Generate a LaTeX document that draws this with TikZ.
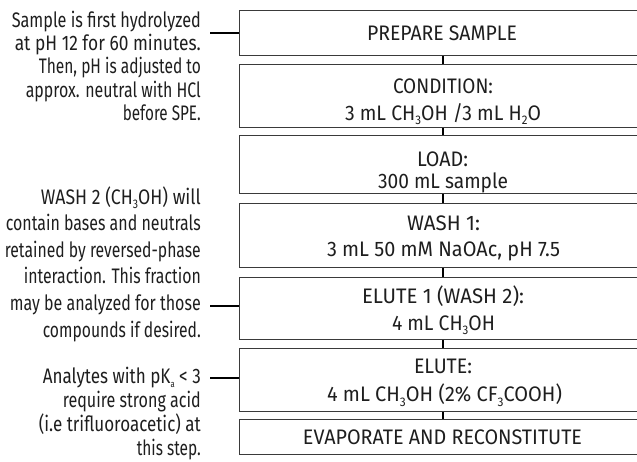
\documentclass[tikz,border=0pt]{standalone}
\usepackage{fontspec}
\usepackage{graphicx}
\setmainfont{Fira Sans}
\definecolor{boxline}{HTML}{3A3A3A}
\definecolor{txt}{HTML}{1E1E1E}
\newcommand\lsub[1]{\raisebox{-4.5pt}{\fontsize{12.5}{12.5}\selectfont #1}}
\newcommand\llsub[1]{\raisebox{-4.5pt}{\fontsize{9.5}{9.5}\selectfont #1}}
\newcommand\fw[2]{\resizebox{#1pt}{\height}{#2}}
\begin{document}
\begin{tikzpicture}[x=1pt,y=-1pt,
  stepbox/.style={draw=boxline,line width=1.3pt,minimum width=406pt,inner sep=0pt,anchor=north west},
  btxt/.style={anchor=base,inner sep=0pt,text=txt,font=\fontsize{21}{22}\selectfont},
  ltxt/.style={anchor=base east,inner sep=0pt,text=txt,font=\fontsize{21}{22}\selectfont},
  link/.style={line width=2pt,black},
  leader/.style={line width=2pt,black}]
\useasboundingbox (0,0) rectangle (637,461);
% boxes
\node[stepbox,minimum height=45pt] (b1) at (239,10) {};
\node[stepbox,minimum height=63pt] (b2) at (239,64) {};
\node[stepbox,minimum height=58pt] (b3) at (239,135) {};
\node[stepbox,minimum height=64pt] (b4) at (239,203) {};
\node[stepbox,minimum height=62pt] (b5) at (239,277) {};
\node[stepbox,minimum height=63pt] (b6) at (239,348) {};
\node[stepbox,minimum height=35pt] (b7) at (239,419) {};
% connectors
\draw[link] (b1.south) -- (b2.north);
\draw[link] (b2.south) -- (b3.north);
\draw[link] (b3.south) -- (b4.north);
\draw[link] (b4.south) -- (b5.north);
\draw[link] (b5.south) -- (b6.north);
\draw[link] (b6.south) -- (b7.north);
% box texts
\node[btxt] (t1) at (442,40.7) {\fw{150}{PREPARE SAMPLE}};
\node[btxt] (t2a) at (443,93.3) {\fw{100}{CONDITION:}};
\node[btxt] (t2b) at (443,120) {\fw{196}{3 mL CH\lsub{3}OH /3 mL H\lsub{2}O}};
\node[btxt] (t3a) at (442.5,166.7) {\fw{51}{LOAD:}};
\node[btxt] (t3b) at (443,188) {\fw{130}{300 mL sample}};
\node[btxt] (t4a) at (443.5,230) {\fw{73}{WASH 1:}};
\node[btxt] (t4b) at (443.5,256.7) {\fw{233}{3 mL 50 mM NaOAc, pH 7.5}};
\node[btxt] (t5a) at (443,303) {\fw{162}{ELUTE 1 (WASH 2):}};
\node[btxt] (t5b) at (443.5,330) {\fw{103}{4 mL CH\lsub{3}OH}};
\node[btxt] (t6a) at (443,373) {\fw{58}{ELUTE:}};
\node[btxt] (t6b) at (444.5,401.7) {\fw{235}{4 mL CH\lsub{3}OH (2\% CF\lsub{3}COOH)}};
\node[btxt] (t7) at (442.5,444) {\fw{279}{EVAPORATE AND RECONSTITUTE}};
% leaders
\coordinate (n1) at (210,32.5);
\coordinate (n2) at (210,306);
\coordinate (n3) at (210,378);
\draw[leader] (n1) -- (n1 -| b1.west);
\draw[leader] (n2) -- (n2 -| b5.west);
\draw[leader] (n3) -- (n3 -| b6.west);
% left notes
\node[ltxt] (a1) at (201,27) {\fw{189}{Sample is first hydrolyzed}};
\node[ltxt] (a2) at (201,50.3) {\fw{186}{at pH 12 for 60 minutes.}};
\node[ltxt] (a3) at (201,73.6) {\fw{162}{Then, pH is adjusted to}};
\node[ltxt] (a4) at (201,97) {\fw{175}{approx. neutral with HCl}};
\node[ltxt] (a5) at (201,120) {\fw{78}{before SPE.}};
\node[ltxt] (c1) at (201,204) {\fw{160}{WASH 2 (CH\lsub{3}OH) will}};
\node[ltxt] (c2) at (201,230.5) {\fw{195}{contain bases and neutrals}};
\node[ltxt] (c3) at (201,257) {\fw{196}{retained by reversed-phase}};
\node[ltxt] (c4) at (201,283.5) {\fw{177}{interaction. This fraction}};
\node[ltxt] (c5) at (201,310) {\fw{191}{may be analyzed for those}};
\node[ltxt] (c6) at (201,337) {\fw{158}{compounds if desired.}};
\node[ltxt] (d1) at (201,383) {\fw{158}{Analytes with pK\llsub{a} < 3}};
\node[ltxt] (d2) at (201,407) {\fw{138}{require strong acid}};
\node[ltxt] (d3) at (201,431) {\fw{162}{(i.e trifluoroacetic) at}};
\node[ltxt] (d4) at (201,455) {\fw{64}{this step.}};
\end{tikzpicture}
\end{document}
